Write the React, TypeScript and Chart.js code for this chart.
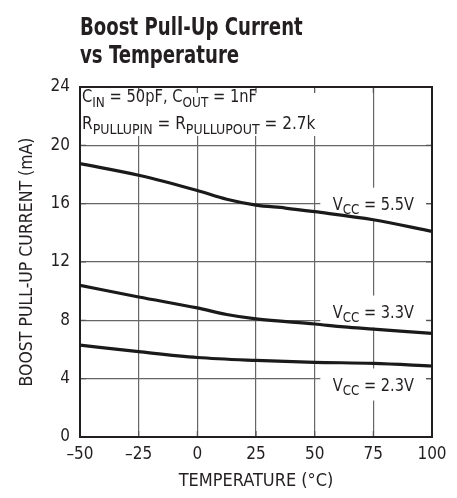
import React, { useEffect, useRef } from 'react';
import { Chart, registerables } from 'chart.js';
Chart.register(...registerables);

const FONT = '"Liberation Sans Narrow", "DejaVu Sans Condensed", "Roboto", sans-serif';
const TEXT = '#231f20';

const temps55 = [-50, -25, 0, 12.5, 25, 37.5, 50, 75, 100];
const vcc55 = [18.75, 17.95, 16.9, 16.3, 15.9, 15.7, 15.45, 14.9, 14.1];
const temps33 = [-50, -25, 0, 12.5, 25, 50, 62.5, 75, 100];
const vcc33 = [10.4, 9.6, 8.85, 8.4, 8.1, 7.75, 7.55, 7.4, 7.1];
const temps23 = [-50, -25, 0, 25, 50, 75, 100];
const vcc23 = [6.3, 5.85, 5.45, 5.25, 5.12, 5.05, 4.87];

const xTicks = [-50, -25, 0, 25, 50, 75, 100];
const xTickLabels = ['\u201350', '\u201325', '0', '25', '50', '75', '100'];
const yTicks = [0, 4, 8, 12, 16, 20, 24];

const titleLines = ['Boost Pull-Up Current', 'vs Temperature'];
const xTitle = 'TEMPERATURE (\u00B0C)';
const yTitle = 'BOOST PULL-UP CURRENT (mA)';

type Seg = { t: string; sub?: boolean };
const condLine1: Seg[] = [{ t: 'C' }, { t: 'IN', sub: true }, { t: ' = 50pF, C' }, { t: 'OUT', sub: true }, { t: ' = 1nF' }];
const condLine2: Seg[] = [{ t: 'R' }, { t: 'PULLUPIN', sub: true }, { t: ' = R' }, { t: 'PULLUPOUT', sub: true }, { t: ' = 2.7k' }];
const seriesLabels: { segs: Seg[]; x: number; y: number }[] = [
  { segs: [{ t: 'V' }, { t: 'CC', sub: true }, { t: ' = 5.5V' }], x: 75, y: 16 },
  { segs: [{ t: 'V' }, { t: 'CC', sub: true }, { t: ' = 3.3V' }], x: 75, y: 8.6 },
  { segs: [{ t: 'V' }, { t: 'CC', sub: true }, { t: ' = 2.3V' }], x: 75, y: 3.6 },
];

function drawRich(ctx: CanvasRenderingContext2D, segs: Seg[], x: number, y: number, size: number, align: 'left' | 'center', sx = 1) {
  const mainF = `${size}px ${FONT}`;
  const subF = `${Math.round(size * 0.8)}px ${FONT}`;
  let total = 0;
  for (const s of segs) {
    ctx.font = s.sub ? subF : mainF;
    total += ctx.measureText(s.t).width * sx;
  }
  let cx = align === 'left' ? x : x - total / 2;
  ctx.textAlign = 'left';
  ctx.textBaseline = 'alphabetic';
  ctx.fillStyle = TEXT;
  for (const s of segs) {
    ctx.font = s.sub ? subF : mainF;
    ctx.save();
    ctx.translate(cx, s.sub ? y + size * 0.27 : y);
    ctx.scale(sx, 1);
    ctx.fillText(s.t, 0, 0);
    ctx.restore();
    cx += ctx.measureText(s.t).width * sx;
  }
}

const decorPlugin = {
  id: 'decor',
  beforeDatasetsDraw(chart: any) {
    const { ctx, chartArea: a, scales } = chart;
    const xs = scales.x, ys = scales.y;
    ctx.save();
    ctx.fillStyle = '#fff';
    ctx.fillRect(a.left + 1, a.top + 1, 250, 48);
    for (const l of seriesLabels) {
      const cx = xs.getPixelForValue(l.x);
      const cy = ys.getPixelForValue(l.y);
      ctx.fillRect(cx - 53, cy - 16, 106, 32);
    }
    ctx.strokeStyle = '#555';
    ctx.lineWidth = 1.2;
    const stub = 6;
    ctx.beginPath();
    for (const v of xTicks) {
      const px = xs.getPixelForValue(v);
      ctx.moveTo(px, a.top); ctx.lineTo(px, a.top + stub);
      ctx.moveTo(px, a.bottom); ctx.lineTo(px, a.bottom - stub);
    }
    for (const v of yTicks) {
      const py = ys.getPixelForValue(v);
      ctx.moveTo(a.left, py); ctx.lineTo(a.left + stub, py);
      ctx.moveTo(a.right, py); ctx.lineTo(a.right - stub, py);
    }
    ctx.stroke();
    ctx.strokeStyle = '#231f20';
    ctx.lineWidth = 2;
    ctx.strokeRect(a.left, a.top, a.right - a.left, a.bottom - a.top);
    drawRich(ctx, condLine1, a.left + 2, a.top + 15, 17, 'left', 0.96);
    drawRich(ctx, condLine2, a.left + 2, a.top + 42, 17, 'left', 1.0);
    for (const l of seriesLabels) {
      const cx = xs.getPixelForValue(l.x);
      const cy = ys.getPixelForValue(l.y);
      drawRich(ctx, l.segs, cx, cy + 6, 17, 'center', 0.95);
    }
    ctx.font = `bold 24px ${FONT}`;
    ctx.fillStyle = TEXT;
    ctx.textAlign = 'left';
    ctx.textBaseline = 'alphabetic';
    ctx.save();
    ctx.translate(a.left, 35);
    ctx.scale(0.84, 1);
    ctx.fillText(titleLines[0], 0, 0);
    ctx.fillText(titleLines[1], 0, 28);
    ctx.restore();
    ctx.restore();
  },
};

export default function App() {
  const ref = useRef<HTMLCanvasElement>(null);
  useEffect(() => {
    if (!ref.current) return;
    const mk = (xv: number[], yv: number[]) => xv.map((x, i) => ({ x, y: yv[i] }));
    const ds = (data: any) => ({
      data,
      borderColor: '#1a1a1a',
      borderWidth: 3.2,
      pointRadius: 0,
      tension: 0.35,
      cubicInterpolationMode: 'monotone' as const,
      fill: false,
    });
    const chart = new Chart(ref.current, {
      type: 'line',
      data: {
        datasets: [ds(mk(temps55, vcc55)), ds(mk(temps33, vcc33)), ds(mk(temps23, vcc23))],
      },
      plugins: [decorPlugin],
      options: {
        animation: false,
        responsive: true,
        maintainAspectRatio: false,
        layout: { padding: { top: 87, right: 25, left: 0, bottom: 0 } },
        plugins: { legend: { display: false }, tooltip: { enabled: false }, title: { display: false } },
        scales: {
          x: {
            type: 'linear',
            min: -50,
            max: 100,
            afterFit: (s: any) => { s.height = 61; },
            afterBuildTicks: (s: any) => { s.ticks = xTicks.map((v) => ({ value: v })); },
            ticks: {
              color: TEXT,
              font: { family: FONT, size: 17 },
              padding: 7,
              maxRotation: 0,
              callback: (v: any) => { const i = xTicks.indexOf(Number(v)); return i >= 0 ? xTickLabels[i] : ''; },
            },
            grid: { color: '#666', lineWidth: 1.2, drawTicks: false },
            border: { display: false },
            title: { display: true, text: xTitle, color: TEXT, font: { family: FONT, size: 18 }, padding: { top: 0, bottom: 6 } },
          },
          y: {
            type: 'linear',
            min: 0,
            max: 24,
            afterFit: (s: any) => { s.width = 80; },
            afterBuildTicks: (s: any) => { s.ticks = yTicks.map((v) => ({ value: v })); },
            ticks: { color: TEXT, font: { family: FONT, size: 17 }, padding: 10 },
            grid: { color: '#666', lineWidth: 1.2, drawTicks: false },
            border: { display: false },
            title: { display: true, text: yTitle, color: TEXT, font: { family: FONT, size: 17.5 }, padding: { top: 17, bottom: 0 } },
          },
        },
      },
    });
    return () => chart.destroy();
  }, []);
  return (
    <div style={{ position: 'absolute', left: 0, top: 0, width: 457, height: 498, background: '#fff' }}>
      <canvas ref={ref} />
    </div>
  );
}
